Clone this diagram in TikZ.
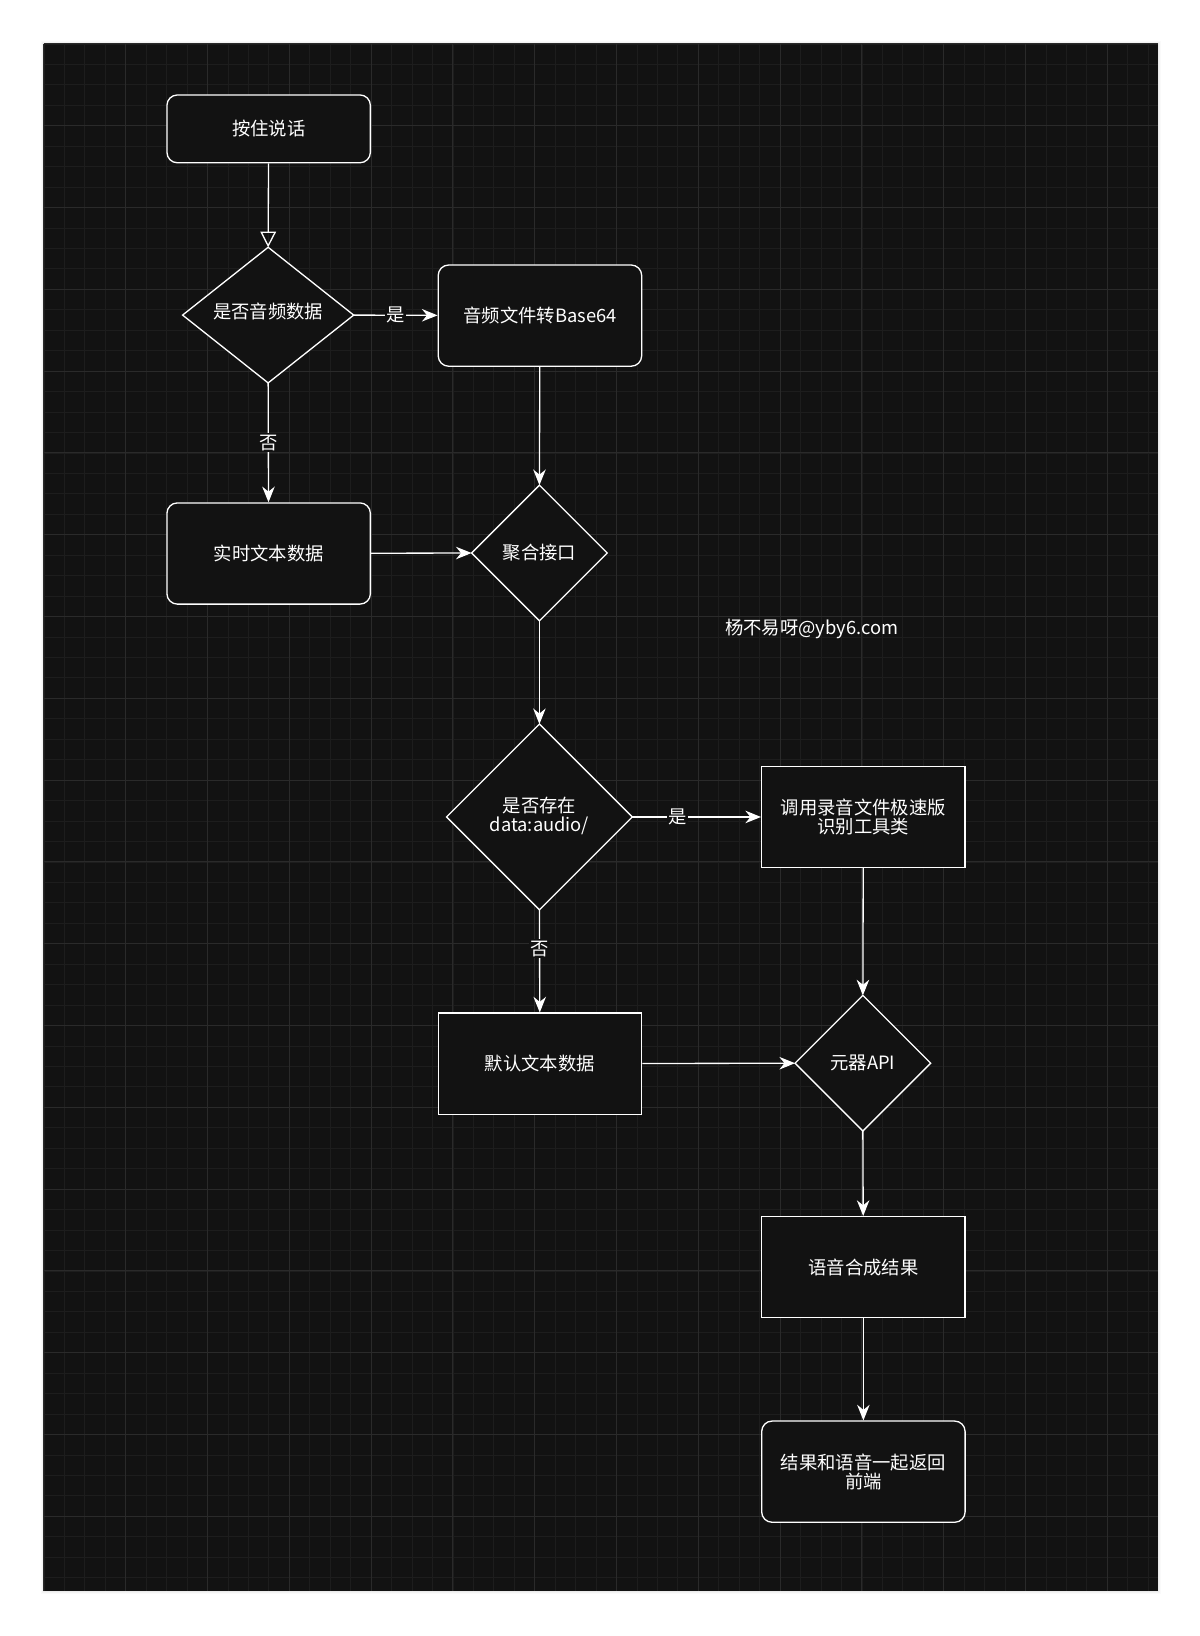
\documentclass[tikz,border=0pt]{standalone}
\usepackage{fontspec}
\setmainfont{Noto Sans CJK SC}
\usetikzlibrary{shapes.geometric,arrows.meta}
\definecolor{bg}{HTML}{121212}
\definecolor{gmin}{HTML}{1D1D1D}
\definecolor{gmaj}{HTML}{2A2A2A}
\begin{document}
\begin{tikzpicture}[x=0.05cm,y=-0.05cm,
  every node/.style={font=\fontsize{25}{30}\selectfont, text=white, align=center},
  ln/.style={draw=white, line width=1.8pt},
  rbox/.style={ln, fill=bg, rounded corners=0.5cm, minimum width=9.75cm, minimum height=4.85cm, inner sep=0pt},
  sbox/.style={ln, fill=bg, minimum width=9.75cm, minimum height=4.85cm, inner sep=0pt},
  dia/.style={ln, fill=bg, diamond, inner sep=0pt},
  arr/.style={draw=white, line width=1.8pt, -{Stealth[length=0.75cm,width=0.6cm]}},
  lab/.style={fill=bg, inner sep=2pt}]
\useasboundingbox (0,0) rectangle (1150,1568);
\fill[white] (0,0) rectangle (1150,1568);
\foreach \i in {1,...,6}{\draw[black!\the\numexpr 2*\i\relax, line width={(7-\i)*1.5pt}, opacity=0.25] (42,42) rectangle (1110,1525);}
\fill[bg] (42,42) rectangle (1110,1525);
\foreach \x in {42,61.6,...,1110}{\draw[gmin, line width=0.8pt] (\x,42) -- (\x,1525);}
\foreach \y in {42,61.6,...,1525}{\draw[gmin, line width=0.8pt] (42,\y) -- (1110,\y);}
\foreach \x in {42,120.4,...,1110}{\draw[gmaj, line width=1pt] (\x,42) -- (\x,1525);}
\foreach \y in {42,120.4,...,1525}{\draw[gmaj, line width=1pt] (42,\y) -- (1110,\y);}

\node[rbox, minimum height=3.25cm] (start) at (257.5,123.5) {按住说话};
\node[ln, fill=bg, draw, shape=rectangle, minimum width=0pt, minimum height=0pt, inner sep=0pt, opacity=0] (dummy) at (0,0) {};
\path[ln, fill=bg] (175,302) -- (257,237) -- (339,302) -- (257,367) -- cycle;
\coordinate (d1t) at (257,237); \coordinate (d1r) at (339,302); \coordinate (d1b) at (257,367);
\node (d1) at (257,299) {是否音频数据};
\node[rbox] (b2) at (517.5,302.5) {音频文件转Base64};
\node[rbox] (b3) at (257.5,530.5) {实时文本数据};
\path[ln, fill=bg] (452,530) -- (517,465) -- (582,530) -- (517,595) -- cycle;
\coordinate (d2t) at (517,465); \coordinate (d2l) at (452,530); \coordinate (d2b) at (517,595);
\node (d2) at (517,530) {聚合接口};
\node (wm) at (778,603) {杨不易呀@yby6.com};
\path[ln, fill=bg] (428,783) -- (517,694) -- (606,783) -- (517,872) -- cycle;
\coordinate (d3t) at (517,694); \coordinate (d3r) at (606,783); \coordinate (d3b) at (517,872);
\node (d3) at (517,782) {是否存在\\[-4pt]data:audio/};
\node[sbox] (b4) at (827.5,783) {调用录音文件极速版\\[-4pt]识别工具类};
\node[sbox] (b5) at (517.5,1019.5) {默认文本数据};
\path[ln, fill=bg] (762,1019) -- (827,954) -- (892,1019) -- (827,1084) -- cycle;
\coordinate (d4t) at (827,954); \coordinate (d4l) at (762,1019); \coordinate (d4b) at (827,1084);
\node (d4) at (827,1019) {元器API};
\node[sbox] (b6) at (827.5,1214.5) {语音合成结果};
\node[rbox] (b7) at (827.5,1410.5) {结果和语音一起返回\\[-4pt]前端};

\draw[draw=white, line width=1.8pt, -{Triangle[open, length=0.75cm, width=0.75cm]}] (start) -- (d1t);
\draw[arr] (d1r) -- node[lab]{是} (b2);
\draw[arr] (d1b) -- node[lab]{否} (b3);
\draw[arr] (b2) -- (d2t);
\draw[arr] (b3) -- (d2l);
\draw[arr] (d2b) -- (d3t);
\draw[arr] (d3r) -- node[lab, pos=0.35]{是} (b4);
\draw[arr] (d3b) -- node[lab, pos=0.38]{否} (b5);
\draw[arr] (b4) -- (d4t);
\draw[arr] (b5) -- (d4l);
\draw[arr] (d4b) -- (b6);
\draw[arr] (b6) -- (b7);
\end{tikzpicture}
\end{document}
